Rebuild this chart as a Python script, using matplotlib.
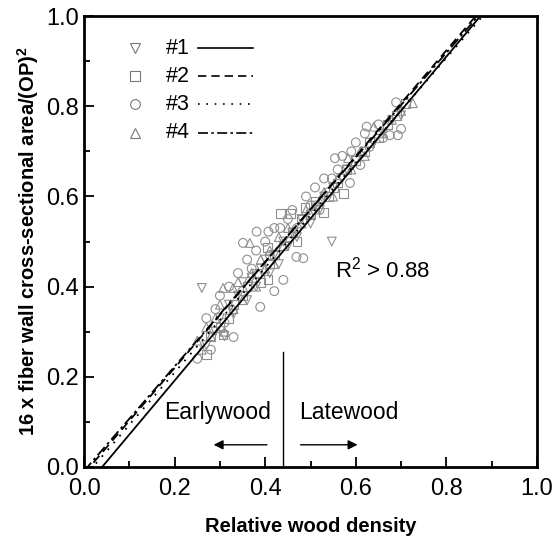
import matplotlib
matplotlib.use("Agg")
import matplotlib.pyplot as plt
import numpy as np
from matplotlib.ticker import MultipleLocator

plt.rcParams["font.family"] = ["Liberation Sans", "DejaVu Sans"]
plt.rcParams["mathtext.fontset"] = "custom"
plt.rcParams["mathtext.rm"] = "Liberation Sans"
plt.rcParams["mathtext.bf"] = "Liberation Sans:bold"

# sample #1 (down triangles)
x1 = [0.26, 0.27, 0.29, 0.30, 0.31, 0.32, 0.33, 0.34, 0.35, 0.36, 0.37, 0.38,
      0.39, 0.40, 0.41, 0.42, 0.43, 0.44, 0.45, 0.46, 0.47, 0.48, 0.50, 0.51,
      0.52, 0.53, 0.547, 0.55, 0.57, 0.58, 0.60, 0.62, 0.64, 0.66, 0.68, 0.70]
y1 = [0.397, 0.27, 0.30, 0.33, 0.29, 0.36, 0.34, 0.38, 0.41, 0.37, 0.42, 0.40,
      0.44, 0.46, 0.43, 0.47, 0.45, 0.50, 0.49, 0.52, 0.51, 0.55, 0.54, 0.58,
      0.57, 0.60, 0.50, 0.62, 0.64, 0.66, 0.68, 0.70, 0.72, 0.74, 0.77, 0.78]

# sample #2 (squares)
x2 = [0.27, 0.28, 0.30, 0.307, 0.32, 0.33, 0.35, 0.36, 0.38, 0.39, 0.405, 0.406,
      0.41, 0.42, 0.433, 0.44, 0.455, 0.46, 0.47, 0.48, 0.488, 0.50, 0.51, 0.528,
      0.54, 0.55, 0.56, 0.572, 0.58, 0.60, 0.62, 0.63, 0.65, 0.67, 0.69, 0.709]
y2 = [0.25, 0.29, 0.31, 0.293, 0.33, 0.36, 0.38, 0.40, 0.43, 0.41, 0.487, 0.415,
      0.45, 0.47, 0.563, 0.49, 0.563, 0.52, 0.50, 0.55, 0.576, 0.56, 0.59, 0.565,
      0.60, 0.62, 0.63, 0.607, 0.66, 0.68, 0.70, 0.72, 0.73, 0.76, 0.78, 0.807]

# sample #3 (circles)
x3 = [0.25, 0.27, 0.28, 0.29, 0.30, 0.31, 0.32, 0.33, 0.34, 0.35, 0.351, 0.36,
      0.37, 0.38, 0.381, 0.389, 0.40, 0.407, 0.41, 0.42, 0.42, 0.433, 0.44, 0.45,
      0.46, 0.469, 0.47, 0.484, 0.49, 0.50, 0.51, 0.52, 0.53, 0.54, 0.547, 0.554,
      0.56, 0.57, 0.587, 0.59, 0.60, 0.61, 0.62, 0.624, 0.63, 0.65, 0.66, 0.675,
      0.689, 0.693, 0.70]
y3 = [0.24, 0.33, 0.26, 0.35, 0.38, 0.32, 0.40, 0.288, 0.43, 0.39, 0.497, 0.46,
      0.44, 0.48, 0.522, 0.355, 0.50, 0.522, 0.47, 0.39, 0.53, 0.530, 0.415, 0.55,
      0.57, 0.466, 0.53, 0.463, 0.60, 0.58, 0.62, 0.57, 0.64, 0.61, 0.64, 0.685,
      0.66, 0.69, 0.63, 0.70, 0.72, 0.67, 0.74, 0.755, 0.71, 0.76, 0.73, 0.736,
      0.809, 0.736, 0.75]

# sample #4 (up triangles)
x4 = [0.25, 0.26, 0.27, 0.28, 0.29, 0.30, 0.307, 0.31, 0.329, 0.33, 0.34, 0.35,
      0.366, 0.37, 0.38, 0.39, 0.40, 0.41, 0.42, 0.43, 0.44, 0.45, 0.46, 0.48,
      0.49, 0.50, 0.52, 0.53, 0.55, 0.56, 0.583, 0.59, 0.61, 0.62, 0.64, 0.66,
      0.68, 0.70, 0.726]
y4 = [0.28, 0.26, 0.31, 0.29, 0.33, 0.36, 0.397, 0.30, 0.397, 0.35, 0.41, 0.37,
      0.497, 0.43, 0.40, 0.46, 0.44, 0.48, 0.45, 0.51, 0.49, 0.53, 0.52, 0.54,
      0.57, 0.56, 0.59, 0.61, 0.60, 0.64, 0.685, 0.66, 0.70, 0.69, 0.755, 0.74,
      0.77, 0.79, 0.807]

labels = ["#1", "#2", "#3", "#4"]
markers = ["v", "s", "o", "^"]
line_styles = ["-", (0, (5, 3)), (0, (1, 4)), (0, (6, 2, 1.5, 2))]
# fitted lines: slope, intercept
slopes = [1.198, 1.174, 1.163, 1.160]
intercepts = [-0.048, -0.015, -0.023, -0.009]

xs = [x1, x2, x3, x4]
ys = [y1, y2, y3, y4]

fig = plt.figure(figsize=(5.53, 5.41), dpi=100)
ax = fig.add_axes([0.152, 0.137, 0.819, 0.833])

for x, y, m in zip(xs, ys, markers):
    ax.scatter(x, y, marker=m, s=40, facecolors="none", edgecolors="#8f8f8f",
               linewidths=0.8, zorder=2)

xfit = np.linspace(0.0, 1.0, 50)
for k, b, ls in zip(slopes, intercepts, line_styles):
    ax.plot(xfit, k * xfit + b, color="black", linestyle=ls, linewidth=1.3, zorder=3)

# legend drawn by hand: marker, label, line sample
rows = [0.929, 0.867, 0.805, 0.741]
for ry, lab, m, ls in zip(rows, labels, markers, line_styles):
    ax.plot([0.113], [ry], marker=m, markersize=7, markerfacecolor="none",
            markeredgecolor="#777777", markeredgewidth=0.8,
            transform=ax.transAxes, clip_on=False)
    ax.text(0.180, ry, lab, transform=ax.transAxes, fontsize=15.5,
            va="center", ha="left")
    ax.plot([0.252, 0.373], [ry, ry], color="black", linestyle=ls,
            linewidth=1.2, transform=ax.transAxes)

ax.text(0.554, 0.437, r"R$^2$ > 0.88", transform=ax.transAxes, fontsize=16,
        va="center", ha="left")

# earlywood / latewood divider
ax.plot([0.44, 0.44], [0.0, 0.255], color="black", linewidth=1.0)
ax.text(0.294, 0.12, "Earlywood", fontsize=16.5, ha="center", va="center")
ax.text(0.585, 0.12, "Latewood", fontsize=16.5, ha="center", va="center")
ax.annotate("", xy=(0.28, 0.049), xytext=(0.41, 0.049),
            arrowprops=dict(arrowstyle="-|>", color="black", lw=1.0,
                            mutation_scale=14))
ax.annotate("", xy=(0.61, 0.049), xytext=(0.472, 0.049),
            arrowprops=dict(arrowstyle="-|>", color="black", lw=1.0,
                            mutation_scale=14))

ax.set_xlim(0, 1.0)
ax.set_ylim(0, 1.0)
ax.xaxis.set_major_locator(MultipleLocator(0.2))
ax.xaxis.set_minor_locator(MultipleLocator(0.1))
ax.yaxis.set_major_locator(MultipleLocator(0.2))
ax.yaxis.set_minor_locator(MultipleLocator(0.1))
ax.tick_params(which="both", direction="in", top=False, right=False, width=1.3)
ax.tick_params(which="major", length=7, labelsize=17)
ax.tick_params(axis="x", which="major", pad=8)
ax.tick_params(which="minor", length=4)
for sp in ax.spines.values():
    sp.set_linewidth(2.0)

ax.set_xlabel("Relative wood density", fontsize=14.5, fontweight="bold", labelpad=12)
ax.set_ylabel(r"16 x fiber wall cross-sectional area/(OP)$^\mathbf{2}$",
              fontsize=14.5, fontweight="bold", labelpad=4)

fig.savefig("out.png", dpi=100)
plt.close(fig)
